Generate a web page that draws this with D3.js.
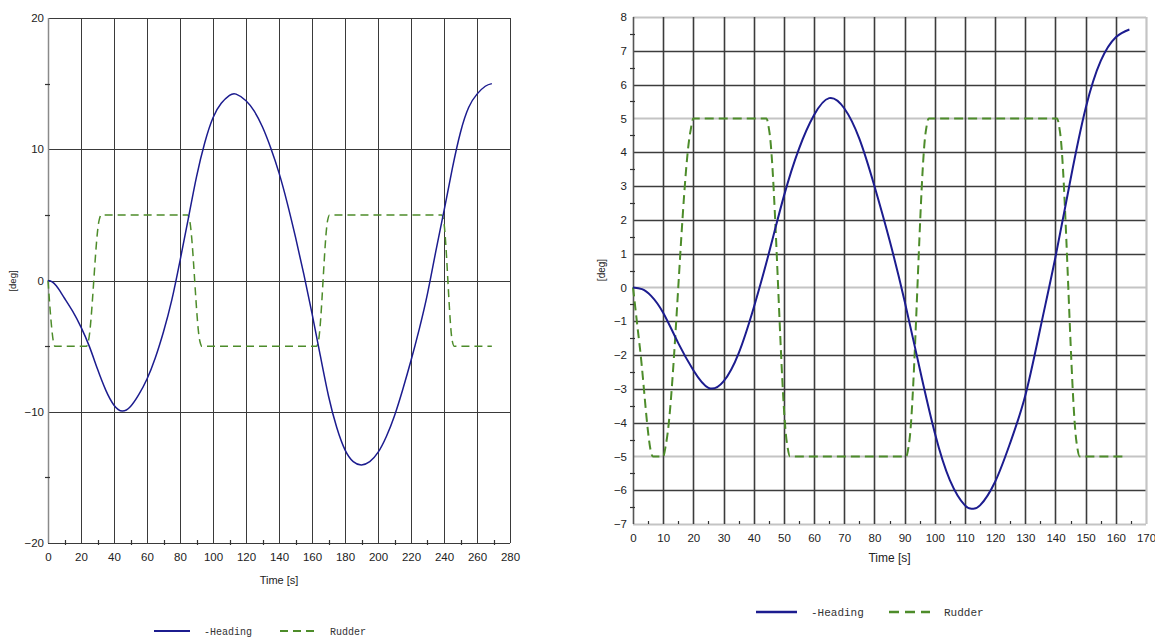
<!DOCTYPE html>
<html lang="en">
<head>
  <meta charset="UTF-8" />
  <title>Zig-zag manoeuvre – heading and rudder</title>
  <script src="https://d3js.org/d3.v7.min.js"></script>
  <style>
    body { margin: 0; background: #fff; }
    svg { display: block; }
    .tick-label { font-family: "Liberation Sans", Arial, sans-serif; fill: #222; }
    .legend-text { font-family: "Liberation Mono", "Courier New", monospace; fill: #333; }
  </style>
</head>
<body>
  <svg id="chart"></svg>

  <script>
    // ---- left chart data (time in s, values in deg)
    const leftHeadingT = [0, 2.5, 5, 7.5, 10, 15, 20, 25, 30, 35, 40, 45, 50, 55, 60, 65, 70, 75, 80, 85, 90, 95,
      100, 105, 110, 114, 120, 125, 130, 135, 140, 145, 150, 155, 160, 165, 170, 175, 180, 185, 190, 195,
      200, 205, 210, 215, 220, 225, 230, 235, 240, 245, 250, 255, 260, 265, 269];
    const leftHeading = [0, -0.1, -0.4, -0.85, -1.35, -2.35, -3.55, -5.0, -6.75, -8.35, -9.5, -9.95, -9.6, -8.7, -7.5, -5.9, -3.9, -1.5, 1.5, 4.7, 7.9, 10.5,
      12.4, 13.5, 14.1, 14.2, 13.7, 12.9, 11.7, 10.1, 8.2, 5.9, 3.3, 0.5, -2.5, -5.7, -8.8, -11.2, -12.9, -13.8, -14.05, -13.8,
      -13.1, -11.9, -10.3, -8.3, -6.1, -3.7, -1.0, 2.2, 5.3, 8.5, 11.3, 13.2, 14.2, 14.8, 15.0];
    const leftRudderT = [0, 4.2, 23.4, 24.5, 31, 32.2, 84.7, 85.8, 92, 93.1, 162.8, 163.9, 169.5, 170.6, 238.6, 239.7, 245, 246.1, 269];
    const leftRudder  = [0, -5, -5, -4.6, 4.6, 5, 5, 4.6, -4.6, -5, -5, -4.6, 4.6, 5, 5, 4.6, -4.6, -5, -5];
    const leftXTicks = [0, 20, 40, 60, 80, 100, 120, 140, 160, 180, 200, 220, 240, 260, 280];
    const leftXMinor = [10, 30, 50, 70, 90, 110, 130, 150, 170, 190, 210, 230, 250, 270];
    const leftYTicks = [-20, -10, 0, 10, 20];
    const leftYMinor = [-15, -5, 5, 15];

    // ---- right chart data
    const rightHeadingT = [0, 3, 6, 10, 15, 20, 25, 30, 35, 40, 45, 50, 55, 60, 65, 70, 75, 80, 85, 90,
      95, 100, 105, 110, 112.5, 115, 120, 125, 130, 135, 140, 145, 150, 155, 160, 164.5];
    const rightHeading = [0, -0.05, -0.25, -0.75, -1.65, -2.45, -2.97, -2.78, -1.95, -0.6, 1.0, 2.7, 4.1, 5.1, 5.6, 5.3, 4.4, 3.0, 1.4, -0.4,
      -2.4, -4.3, -5.7, -6.45, -6.55, -6.45, -5.75, -4.6, -3.2, -1.2, 0.9, 3.2, 5.3, 6.7, 7.4, 7.63];
    const rightRudderT = [0, 2.3, 6.6, 10, 11, 19, 20, 44.2, 45.2, 51, 52, 90.5, 91.5, 97, 98, 140.5, 141.5, 147, 148, 163.7];
    const rightRudder  = [0, -1.8, -5, -5, -4.6, 4.6, 5, 5, 4.6, -4.6, -5, -5, -4.6, 4.6, 5, 5, 4.6, -4.6, -5, -5];
    const rightXTicks = [0, 10, 20, 30, 40, 50, 60, 70, 80, 90, 100, 110, 120, 130, 140, 150, 160, 170];
    const rightXMinor = [5, 15, 25, 35, 45, 55, 65, 75, 85, 95, 105, 115, 125, 135, 145, 155, 165];
    const rightYTicks = [-7, -6, -5, -4, -3, -2, -1, 0, 1, 2, 3, 4, 5, 6, 7, 8];
    const rightYMinor = [-6.5, -5.5, -4.5, -3.5, -2.5, -1.5, -0.5, 0.5, 1.5, 2.5, 3.5, 4.5, 5.5, 6.5, 7.5];
    const rightLightRows = [-7, -5, 0, 5, 8];

    const legendLabels = ["-Heading", "Rudder"];

    const width = 1155;
    const height = 639;
    const blue = "#1c1c8f";
    const green = "#4d8c2a";

    const svg = d3.select("#chart")
      .attr("width", width)
      .attr("height", height);

    function drawPanel(p) {
      const x = d3.scaleLinear().domain(p.xDomain).range(p.xRange);
      const y = d3.scaleLinear().domain(p.yDomain).range(p.yRange);
      const g = svg.append("g");
      const [x0, x1] = p.xRange;
      const [yb, yt] = p.yRange;

      // horizontal grid
      g.selectAll(".hgrid")
        .data(p.yTicks)
        .enter().append("line")
        .attr("x1", x0).attr("x2", x1)
        .attr("y1", d => Math.round(y(d)) + 0.5)
        .attr("y2", d => Math.round(y(d)) + 0.5)
        .attr("stroke", d => p.lightRows.includes(d) ? p.lightColor : p.gridColor)
        .attr("stroke-width", d => p.lightRows.includes(d) ? p.lightWidth : p.gridWidth);

      // vertical grid
      g.selectAll(".vgrid")
        .data(p.xTicks.filter(d => d !== p.xDomain[0]))
        .enter().append("line")
        .attr("x1", d => Math.round(x(d)) + 0.5)
        .attr("x2", d => Math.round(x(d)) + 0.5)
        .attr("y1", yt).attr("y2", yb)
        .attr("stroke", d => d === p.xDomain[1] ? p.rightEdgeColor : p.gridColor)
        .attr("stroke-width", d => d === p.xDomain[1] ? p.lightWidth : p.gridWidth);

      // left axis line
      g.append("line")
        .attr("x1", Math.round(x0) + 0.5).attr("x2", Math.round(x0) + 0.5)
        .attr("y1", yt).attr("y2", yb)
        .attr("stroke", p.axisColor).attr("stroke-width", p.axisWidth);

      // minor ticks
      g.selectAll(".ymin")
        .data(p.yMinor)
        .enter().append("line")
        .attr("x1", x0 - 3).attr("x2", x0 + 2)
        .attr("y1", d => Math.round(y(d)) + 0.5).attr("y2", d => Math.round(y(d)) + 0.5)
        .attr("stroke", "#333").attr("stroke-width", 1.2);
      g.selectAll(".xmin")
        .data(p.xMinor)
        .enter().append("line")
        .attr("x1", d => Math.round(x(d)) + 0.5).attr("x2", d => Math.round(x(d)) + 0.5)
        .attr("y1", yb - 3).attr("y2", yb + p.xMinorBelow)
        .attr("stroke", "#333").attr("stroke-width", 1.2);

      // tick labels
      const yAxis = d3.axisLeft(y).tickValues(p.yTicks).tickSize(0).tickPadding(p.yPad);
      const ya = g.append("g").attr("transform", `translate(${x0},0)`).call(yAxis);
      ya.select(".domain").remove();
      ya.selectAll("text").attr("class", "tick-label").style("font-size", p.fontSize + "px")
        .attr("fill", p.labelColor);

      const xAxis = d3.axisBottom(x).tickValues(p.xTicks).tickSize(0).tickPadding(p.xPad);
      const xa = g.append("g").attr("transform", `translate(0,${yb})`).call(xAxis);
      xa.select(".domain").remove();
      xa.selectAll("text").attr("class", "tick-label").style("font-size", p.fontSize + "px")
        .attr("fill", p.labelColor);

      g.append("text")
        .attr("class", "tick-label")
        .attr("x", (x0 + x1) / 2).attr("y", p.xTitleY)
        .attr("text-anchor", "middle")
        .style("font-size", p.titleSize + "px")
        .attr("fill", p.labelColor)
        .text("Time [s]");

      g.append("text")
        .attr("class", "tick-label")
        .attr("transform", `translate(${p.yTitleX},${p.yTitleY}) rotate(-90)`)
        .attr("text-anchor", "middle")
        .style("font-size", p.yTitleSize + "px")
        .attr("fill", p.labelColor)
        .text("[deg]");

      // series
      const heading = d3.zip(p.headingT, p.heading);
      const rudder = d3.zip(p.rudderT, p.rudder);

      g.append("path")
        .datum(rudder)
        .attr("d", d3.line().x(d => x(d[0])).y(d => y(d[1])).curve(d3.curveMonotoneX))
        .attr("fill", "none")
        .attr("stroke", green)
        .attr("stroke-width", p.lineWidth)
        .attr("stroke-dasharray", p.dash);

      g.append("path")
        .datum(heading)
        .attr("d", d3.line().x(d => x(d[0])).y(d => y(d[1])).curve(d3.curveNatural))
        .attr("fill", "none")
        .attr("stroke", blue)
        .attr("stroke-width", p.lineWidth);

      // legend
      const lg = g.append("g");
      lg.append("line")
        .attr("x1", p.legend.x).attr("x2", p.legend.x + p.legend.len)
        .attr("y1", p.legend.y).attr("y2", p.legend.y)
        .attr("stroke", blue).attr("stroke-width", p.legend.w);
      lg.append("text")
        .attr("class", "legend-text")
        .attr("x", p.legend.x + p.legend.len + 14).attr("y", p.legend.y + p.legend.dy)
        .style("font-size", p.legend.font + "px")
        .text(legendLabels[0]);
      lg.append("line")
        .attr("x1", p.legend.x2).attr("x2", p.legend.x2 + p.legend.len)
        .attr("y1", p.legend.y).attr("y2", p.legend.y)
        .attr("stroke", green).attr("stroke-width", p.legend.w)
        .attr("stroke-dasharray", p.legend.dash);
      lg.append("text")
        .attr("class", "legend-text")
        .attr("x", p.legend.x2 + p.legend.len + 14).attr("y", p.legend.y + p.legend.dy)
        .style("font-size", p.legend.font + "px")
        .text(legendLabels[1]);
    }

    drawPanel({
      xDomain: [0, 280], xRange: [48, 510],
      yDomain: [-20, 20], yRange: [543, 18],
      xTicks: leftXTicks, xMinor: leftXMinor, yTicks: leftYTicks, yMinor: leftYMinor,
      lightRows: [], gridColor: "#3a3a3a", gridWidth: 1, lightColor: "#888", lightWidth: 1,
      rightEdgeColor: "#3a3a3a", axisColor: "#8a8a8a", axisWidth: 1.5,
      xMinorBelow: 2, fontSize: 11.5, titleSize: 11, yTitleSize: 9.5, labelColor: "#222",
      yPad: 4, xPad: 10, xTitleY: 584, yTitleX: 16, yTitleY: 281,
      headingT: leftHeadingT, heading: leftHeading, rudderT: leftRudderT, rudder: leftRudder,
      lineWidth: 1.5, dash: "8,5",
      legend: { x: 154, x2: 280, y: 631, len: 36, w: 2, dy: 4, font: 10, dash: "8,5" }
    });

    drawPanel({
      xDomain: [0, 170], xRange: [633, 1146],
      yDomain: [-7, 8], yRange: [524, 17],
      xTicks: rightXTicks, xMinor: rightXMinor, yTicks: rightYTicks, yMinor: rightYMinor,
      lightRows: rightLightRows, gridColor: "#3c3c3c", gridWidth: 1.6, lightColor: "#c4c4c4", lightWidth: 2.2,
      rightEdgeColor: "#c4c4c4", axisColor: "#555", axisWidth: 1.6,
      xMinorBelow: 0, fontSize: 11.5, titleSize: 12, yTitleSize: 10, labelColor: "#3a3a3a",
      yPad: 6, xPad: 10, xTitleY: 562, yTitleX: 605, yTitleY: 270,
      headingT: rightHeadingT, heading: rightHeading, rudderT: rightRudderT, rudder: rightRudder,
      lineWidth: 2, dash: "9,5",
      legend: { x: 756, x2: 889, y: 612, len: 41, w: 2.5, dy: 4, font: 11, dash: "10,6" }
    });
  </script>
</body>
</html>
